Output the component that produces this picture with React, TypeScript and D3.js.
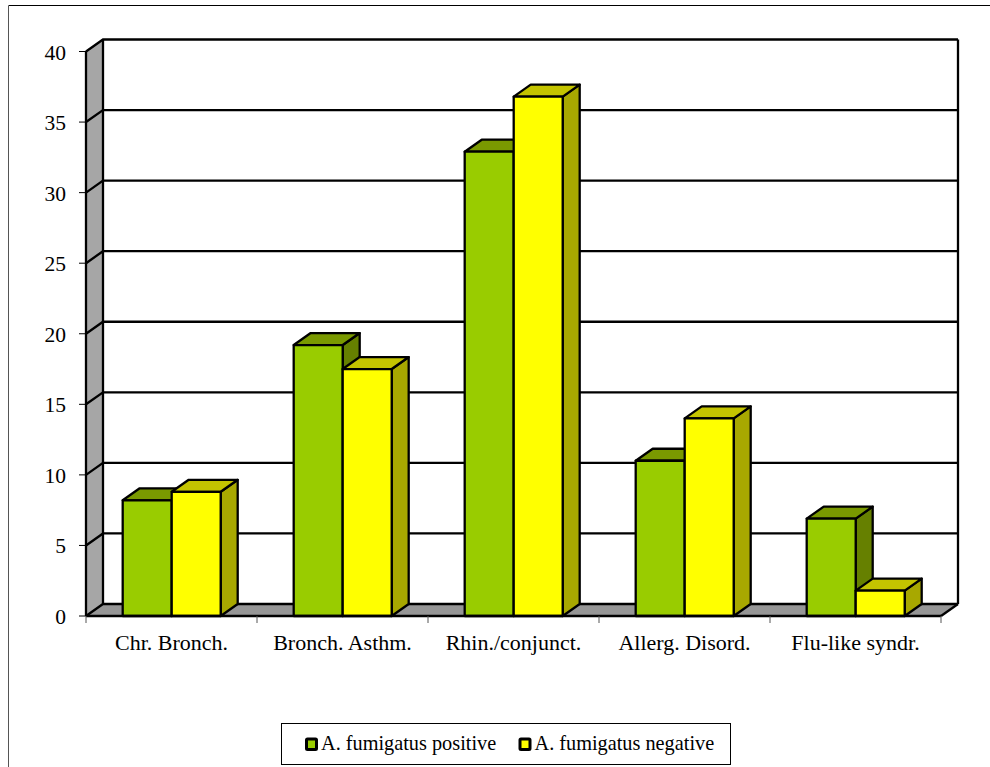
import React from "react";
import * as d3 from "d3";

const categories = ["Chr. Bronch.", "Bronch. Asthm.", "Rhin./conjunct.", "Allerg. Disord.", "Flu-like syndr."];
const positiveValues = [8.2, 19.2, 32.9, 11.0, 6.9];
const negativeValues = [8.8, 17.5, 36.8, 14.0, 1.8];
const yTicks = [0, 5, 10, 15, 20, 25, 30, 35, 40];
const seriesNames = ["A. fumigatus positive", "A. fumigatus negative"];

const FONT = "'Liberation Serif', serif";
const DX = 17;
const DY = -12;
const STROKE = 2.3;

const x = d3.scaleBand<string>().domain(categories).range([86, 941]);
const y = d3.scaleLinear().domain([0, 40]).range([616, 51.5]);

const palette = [
  { front: "#99cc00", top: "#7a9900", side: "#668000" },
  { front: "#ffff00", top: "#c4c400", side: "#a8a800" },
];

const poly = (pts: [number, number][]) => d3.line()(pts) + "Z";

function Bar({ cat, s, v }: { cat: string; s: number; v: number }) {
  const bw = 49;
  const x0 = x(cat)! + 36.7 + s * bw;
  const x1 = x0 + bw;
  const y0 = y(0);
  const yt = y(v);
  const c = palette[s];
  return (
    <g stroke="#000" strokeWidth={STROKE} strokeLinejoin="round">
      <path d={poly([[x1, y0], [x1 + DX, y0 + DY], [x1 + DX, yt + DY], [x1, yt]])} fill={c.side} />
      <path d={poly([[x0, yt], [x0 + DX, yt + DY], [x1 + DX, yt + DY], [x1, yt]])} fill={c.top} />
      <rect x={x0} y={yt} width={bw} height={y0 - yt} fill={c.front} />
    </g>
  );
}

export default function App() {
  const [x0, x1] = x.range();
  const y0 = y(0);
  const y40 = y(40);
  return (
    <svg
      width={990}
      height={767}
      style={{ position: "absolute", left: 0, top: 0, background: "#fff" }}
      fontFamily={FONT}
    >
      {/* outer chart frame, open to the right and bottom */}
      <path d="M8.5,767V5.5H990" fill="none" stroke="#555" strokeWidth={1} />
      <line x1={9} x2={990} y1={5.5} y2={5.5} stroke="#000" strokeWidth={1} />

      {/* walls and floor of the 3D box */}
      <path d={poly([[x0, y0], [x0 + DX, y0 + DY], [x0 + DX, y40 + DY], [x0, y40]])} fill="#a6a6a6" />
      <path d={poly([[x0, y0], [x0 + DX, y0 + DY], [x1 + DX, y0 + DY], [x1, y0]])} fill="#969696" />

      {yTicks.map((t) => (
        <g key={t}>
          <path
            d={`M${x0},${y(t)}L${x0 + DX},${y(t) + DY}H${x1 + DX}`}
            fill="none"
            stroke="#000"
            strokeWidth={STROKE}
          />
          <line x1={x0 - 7} x2={x0} y1={y(t)} y2={y(t)} stroke="#000" strokeWidth={1} />
          <text x={66} y={y(t) + 8} textAnchor="end" fontSize={21.5} fill="#000">
            {t}
          </text>
        </g>
      ))}
      <line x1={x0} x2={x0} y1={y40} y2={y0} stroke="#000" strokeWidth={STROKE} />
      <line x1={x0 + DX} x2={x0 + DX} y1={y40 + DY} y2={y0 + DY} stroke="#000" strokeWidth={STROKE} />
      <line x1={x1 + DX} x2={x1 + DX} y1={y40 + DY} y2={y0 + DY} stroke="#000" strokeWidth={STROKE} />
      <line x1={x1} x2={x1 + DX} y1={y0} y2={y0 + DY} stroke="#000" strokeWidth={STROKE} />

      {categories.map((c, i) => (
        <g key={c}>
          <Bar cat={c} s={0} v={positiveValues[i]} />
          <Bar cat={c} s={1} v={negativeValues[i]} />
        </g>
      ))}

      {/* category axis */}
      <line x1={x0} x2={x1} y1={y0} y2={y0} stroke="#000" strokeWidth={STROKE} />
      {[...categories.map((c) => x(c)!), x1].map((p) => (
        <line key={p} x1={p} x2={p} y1={y0} y2={y0 + 7} stroke="#555" strokeWidth={1} />
      ))}
      {categories.map((c) => (
        <text key={c} x={x(c)! + x.bandwidth() / 2} y={650} textAnchor="middle" fontSize={22} fill="#000">
          {c}
        </text>
      ))}

      {/* legend */}
      <rect x={281.5} y={723.5} width={449} height={41} fill="#fff" stroke="#000" strokeWidth={1} />
      {seriesNames.map((name, i) => {
        const lx = 306.5 + i * 213.5;
        return (
          <g key={name}>
            <rect x={lx} y={739} width={10} height={10.5} rx={1} fill={palette[i].front} stroke="#000" strokeWidth={3} />
            <text x={321 + i * 213.5} y={750} fontSize={20.3} fill="#000">
              {name}
            </text>
          </g>
        );
      })}
    </svg>
  );
}
